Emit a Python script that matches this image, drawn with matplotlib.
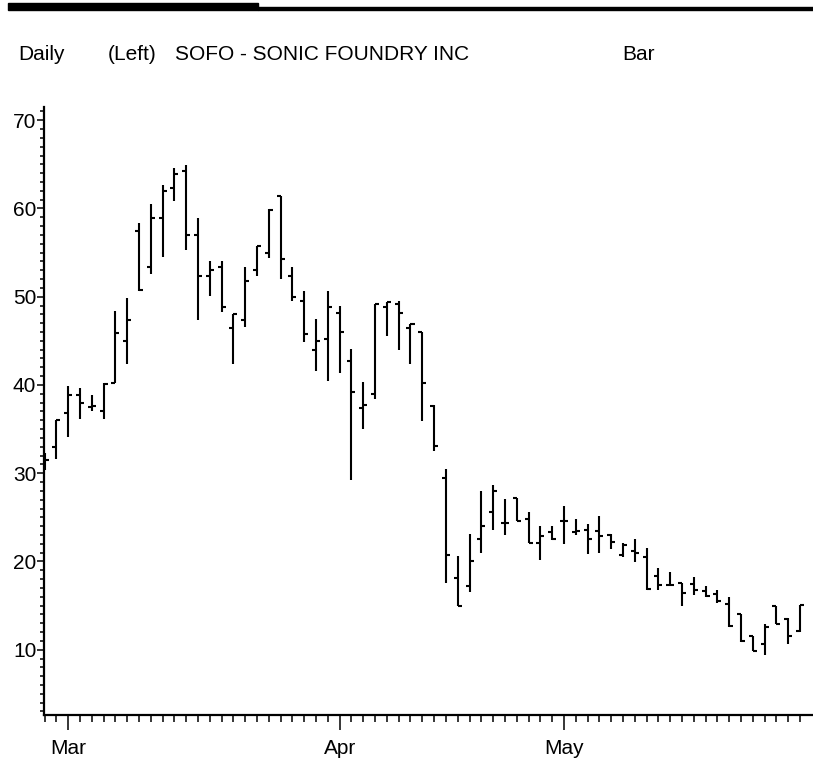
import matplotlib
matplotlib.use('Agg')
import matplotlib.pyplot as plt
from matplotlib.patches import Rectangle

# daily OHLC, SOFO, 28 Feb - 31 May 2000 (one entry per trading day)
opens = [31.0, 33.0, 36.8, 38.9, 37.5, 37.0, 40.2, 45.0, 57.4, 53.4, 58.9, 62.3, 64.3,
         57.0, 52.4, 53.4, 46.5, 47.4, 53.0, 54.9, 61.4, 52.4, 49.5, 44.0, 45.2, 48.2,
         42.7, 37.4, 39.0, 48.8, 49.2, 46.5, 46.0, 37.6, 29.5, 18.1, 17.2, 22.5, 25.6,
         24.4, 27.2, 24.8, 22.1, 23.3, 24.6, 23.3, 23.6, 23.5, 23.0, 20.7, 21.2, 20.5,
         18.3, 17.3, 17.6, 17.4, 16.7, 16.3, 15.2, 14.0, 11.5, 10.7, 14.9, 13.5, 12.1]
highs = [32.3, 36.0, 39.9, 39.7, 38.9, 40.2, 48.4, 49.8, 58.4, 60.5, 62.7, 64.6, 64.9,
         58.9, 54.0, 54.0, 48.0, 53.4, 55.8, 59.9, 61.4, 53.4, 50.6, 47.5, 50.6, 48.9,
         44.1, 40.3, 49.2, 49.4, 49.5, 46.9, 46.0, 37.7, 30.5, 20.6, 23.1, 28.0, 28.7,
         27.1, 27.2, 25.6, 24.0, 24.0, 26.3, 24.8, 24.2, 25.2, 23.1, 22.1, 22.5, 21.5,
         19.3, 18.8, 17.6, 18.2, 17.2, 16.8, 16.0, 14.1, 11.6, 12.9, 15.0, 13.6, 15.1]
lows = [30.4, 31.6, 34.1, 36.1, 37.0, 36.1, 40.2, 42.4, 50.7, 52.6, 54.5, 60.9, 55.3,
        47.4, 50.1, 48.3, 42.4, 46.6, 52.3, 54.4, 52.0, 49.5, 44.9, 41.6, 40.5, 41.4,
        29.2, 35.0, 38.4, 45.5, 44.0, 42.4, 35.9, 32.5, 17.6, 15.0, 16.5, 21.0, 23.6,
        23.0, 24.6, 22.1, 20.2, 22.4, 22.0, 23.0, 20.9, 21.0, 21.4, 20.5, 19.9, 16.8,
        16.8, 17.2, 15.0, 16.2, 16.0, 15.3, 12.6, 10.9, 9.9, 9.4, 12.9, 10.6, 12.0]
closes = [31.5, 36.0, 38.9, 37.9, 37.6, 40.1, 45.9, 47.4, 50.8, 58.9, 62.0, 63.9, 57.0,
          52.4, 53.0, 48.8, 48.0, 51.8, 55.8, 59.8, 54.3, 50.0, 45.8, 45.0, 48.8, 46.0,
          39.2, 37.7, 49.2, 49.4, 48.2, 46.9, 40.2, 33.1, 20.7, 15.0, 20.0, 24.0, 28.0,
          24.4, 24.6, 22.1, 22.9, 22.5, 24.6, 23.5, 22.6, 22.9, 22.2, 21.9, 21.0, 16.9,
          17.3, 17.3, 16.4, 16.8, 16.1, 15.5, 12.7, 11.0, 9.9, 12.6, 12.9, 11.6, 15.1]

month_labels = ['Mar', 'Apr', 'May']
month_pos = [2, 25, 44]
y_ticks = [10, 20, 30, 40, 50, 60, 70]

plt.rcParams['font.family'] = ['Liberation Sans', 'DejaVu Sans']

fig = plt.figure(figsize=(8.13, 7.67), dpi=100)
ax = fig.add_axes([44 / 813, 1 - 715 / 767, 1 - 44 / 813, (715 - 107) / 767])

x = list(range(len(opens)))
w = 0.34
ax.vlines(x, lows, highs, color='black', lw=1.5)
ax.hlines(opens, [i - w for i in x], x, color='black', lw=1.5)
ax.hlines(closes, x, [i + w for i in x], color='black', lw=1.5)

ax.set_xlim(-0.05, 65.1)
ax.set_ylim(2.6, 71.5)

for s in ['top', 'right']:
    ax.spines[s].set_visible(False)
for s in ['left', 'bottom']:
    ax.spines[s].set_linewidth(1.6)

ax.set_yticks(y_ticks)
ax.set_yticklabels([str(v) for v in y_ticks], fontsize=15)
ax.set_yticks(range(3, 72), minor=True)
ax.tick_params(axis='y', which='major', length=5, width=1.1, pad=0.5)
ax.tick_params(axis='y', which='minor', length=3, width=1.1)

ax.set_xticks(month_pos)
ax.set_xticklabels(month_labels, fontsize=15)
ax.set_xticks(range(0, 65), minor=True)
ax.tick_params(axis='x', which='major', length=11, width=1.1, pad=6)
ax.tick_params(axis='x', which='minor', length=5, width=1.1)

# header strip
fig.patches.append(Rectangle((8 / 813, 1 - 9.5 / 767), 250 / 813, 6.5 / 767,
                             transform=fig.transFigure, color='black'))
fig.patches.append(Rectangle((258 / 813, 1 - 9.5 / 767), 555 / 813, 2 / 767,
                             transform=fig.transFigure, color='black'))

ty = 1 - 55 / 767
fig.text(18 / 813, ty, 'Daily', fontsize=15, va='center')
fig.text(108 / 813, ty, '(Left)', fontsize=15, va='center')
fig.text(175 / 813, ty, 'SOFO - SONIC FOUNDRY INC', fontsize=15, va='center')
fig.text(622 / 813, ty, 'Bar', fontsize=15, va='center')

fig.savefig('out.png', dpi=100)
